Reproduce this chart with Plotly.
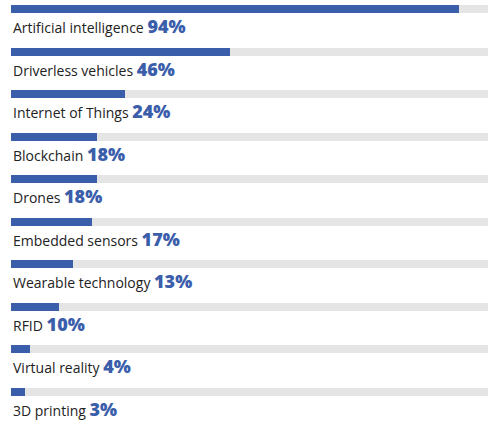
import plotly.graph_objects as go

# data
categories = ["Artificial intelligence", "Driverless vehicles", "Internet of Things",
              "Blockchain", "Drones", "Embedded sensors", "Wearable technology",
              "RFID", "Virtual reality", "3D printing"]
values = [94, 46, 24, 18, 18, 17, 13, 10, 4, 3]
track = [100] * len(categories)

blue = "#3b5eab"
grey = "#e5e5e5"

pos = list(range(len(categories)))

fig = go.Figure()
fig.add_trace(go.Bar(x=track, y=pos, orientation="h", width=0.19,
                     marker=dict(color=grey, line_width=0), hoverinfo="skip"))
fig.add_trace(go.Bar(x=values, y=pos, orientation="h", width=0.19,
                     marker=dict(color=blue, line_width=0),
                     customdata=categories,
                     hovertemplate="%{customdata}: %{x}%<extra></extra>"))

for i, (cat, v) in enumerate(zip(categories, values)):
    fig.add_annotation(
        x=0, y=i, xref="x", yref="y", xanchor="left", yanchor="middle",
        yshift=-17, showarrow=False,
        text=(f"{cat} <span style='color:{blue};font-size:18px;"
              f"font-weight:800'>{v}%</span>"),
        font=dict(family="Open Sans", size=14, color="#222222"),
    )

fig.update_layout(
    width=500, height=425,
    margin=dict(l=11, r=12, t=0, b=0),
    barmode="overlay", bargap=0,
    showlegend=False,
    plot_bgcolor="white", paper_bgcolor="white",
    xaxis=dict(range=[0, 100], visible=False, fixedrange=True),
    yaxis=dict(range=[9.777, -0.2115], visible=False, fixedrange=True),
)

# drop the page's default body margin so the figure sits at the top-left corner
fig.write_html("out.html", config={"displayModeBar": False},
               post_script="document.body.style.margin='0';")
